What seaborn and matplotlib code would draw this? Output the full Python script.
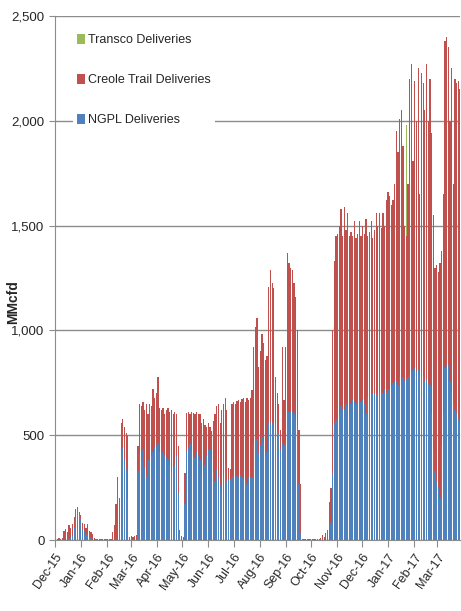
import numpy as np
import pandas as pd
import matplotlib
matplotlib.use("Agg")
import matplotlib.pyplot as plt
import seaborn as sns

# daily deliveries, in 2-day bins starting 1 Dec 2015 (MMcfd)
# total height of each bar (NGPL + Creole Trail) and the NGPL part
total_dec15 = [5, 5, 8, 5, 10, 45, 55, 40, 70, 60, 75, 110, 150, 160, 135, 120]
ngpl_dec15 = [0, 0, 0, 0, 0, 0, 0, 0, 5, 10, 20, 60, 110, 130, 120, 100]

total_jan16 = [80, 75, 60, 75, 45, 40, 30, 8, 5, 5, 5, 5, 5, 5, 5, 5, 5, 5]
ngpl_jan16 = [55, 40, 25, 30, 15, 10, 0, 0, 0, 0, 0, 0, 0, 0, 0, 0, 0, 0]

total_feb16 = [40, 70, 170, 300, 200, 560, 580, 540, 510, 500, 15, 20, 15, 20, 25]
ngpl_feb16 = [0, 0, 0, 0, 60, 420, 440, 380, 340, 200, 0, 0, 0, 0, 0]

total_mar16 = [450, 650, 640, 660, 620, 650, 600, 650, 640, 720, 680, 700, 780, 630,
               620, 630, 600, 620, 630, 610, 620, 600, 610, 600, 450, 50, 20, 15]
ngpl_mar16 = [330, 410, 380, 430, 350, 300, 380, 380, 400, 420, 440, 450, 460, 420,
              410, 420, 400, 390, 380, 360, 330, 350, 360, 400, 220, 30, 0, 0]

total_may16 = [320, 605, 610, 600, 610, 605, 600, 610, 600, 600, 560, 580, 550, 540,
               560, 540, 520, 570, 600, 640, 650, 560, 620, 650, 680, 620]
ngpl_may16 = [170, 420, 440, 460, 430, 400, 390, 420, 400, 380, 310, 330, 360, 400,
              430, 430, 380, 330, 280, 340, 300, 260, 240, 300, 370, 280]

total_jul16 = [345, 340, 650, 660, 650, 665, 670, 660, 675, 680, 660, 680, 670, 680,
               715, 920, 1015, 1060, 825, 900, 985, 940, 860, 880, 1205, 1290, 1225,
               1200, 780, 700, 650, 525, 920, 670, 920, 1370, 1320, 1300, 1290, 1225,
               1160, 1000, 525, 270]
ngpl_jul16 = [290, 285, 300, 310, 300, 305, 300, 310, 300, 290, 280, 270, 300, 300,
              296, 460, 490, 480, 415, 450, 490, 470, 400, 420, 560, 570, 560,
              540, 560, 520, 510, 430, 460, 450, 470, 610, 610, 610, 610, 600,
              580, 545, 270, 35]

total_oct16 = [3, 3, 3, 3, 3, 3, 3, 3, 3, 3, 3, 10, 25, 15, 35, 50, 180, 250]
ngpl_oct16 = [0, 0, 0, 0, 0, 0, 0, 0, 0, 0, 0, 0, 0, 0, 0, 0, 0, 80]

total_nov16 = [1000, 1330, 1450, 1460, 1500, 1580, 1450, 1590, 1480, 1560, 1450, 1470,
               1450, 1520, 1440, 1460, 1520, 1450, 1500, 1460, 1530, 1450, 1470, 1520,
               1440, 1480, 1560, 1500, 1560, 1490, 1560, 1500, 1620, 1660, 1640, 1600,
               1620, 1700, 1950, 1850, 2010, 2050, 1880, 1500]
ngpl_nov16 = [320, 560, 580, 570, 600, 640, 620, 620, 650, 640, 600, 650,
              670, 660, 650, 670, 670, 660, 670, 650, 600, 680, 680, 690,
              700, 700, 690, 700, 700, 710, 700, 720, 700, 720, 720, 730,
              750, 760, 760, 740, 780, 760, 780, 760]

total_feb17 = [1450, 1700, 2200, 2270, 1810, 2190, 2000, 2250, 1650, 2230, 2180, 2050,
               2270, 2000, 2200, 1940, 1550, 1300, 1310, 1280, 1320, 1380, 1650, 2380,
               2400, 2350, 2000, 2250, 1700, 2200, 2180, 2190, 2150]
ngpl_feb17 = [770, 780, 790, 800, 810, 820, 800, 810, 790, 800, 780, 760,
              770, 750, 740, 600, 420, 330, 280, 250, 200, 450, 600, 820,
              835, 830, 760, 700, 650, 620, 600, 580, 560]

# Transco only shows as one thin green sliver in late January 2017
transco_bin = 209
transco_val = 530

month_days = [0, 31, 62, 91, 122, 152, 183, 213, 244, 275, 305, 336, 366, 397, 428, 456]
month_labels = ["Dec-15", "Jan-16", "Feb-16", "Mar-16", "Apr-16", "May-16", "Jun-16",
                "Jul-16", "Aug-16", "Sep-16", "Oct-16", "Nov-16", "Dec-16", "Jan-17",
                "Feb-17", "Mar-17"]

total = np.array(total_dec15 + total_jan16 + total_feb16 + total_mar16 + total_may16
                 + total_jul16 + total_oct16 + total_nov16 + total_feb17, dtype=float)
ngpl = np.array(ngpl_dec15 + ngpl_jan16 + ngpl_feb16 + ngpl_mar16 + ngpl_may16
                + ngpl_jul16 + ngpl_oct16 + ngpl_nov16 + ngpl_feb17, dtype=float)
transco = np.zeros(len(total))
transco[transco_bin] = transco_val

df = pd.DataFrame({
    "day": 2 * np.arange(len(total)) + 1,
    "ngpl": ngpl,
    "creole_top": total,
    "transco_top": total + transco,
})

sns.set_style("white")
plt.rcParams["font.family"] = ["Liberation Sans Narrow", "Liberation Sans", "DejaVu Sans"]

fig = plt.figure(figsize=(4.61, 6.11), dpi=100)
ax = fig.add_axes([0.119, 0.116, 0.879, 0.858])

blue = "#4F81BD"
red = "#C0504D"
green = "#9BBB59"

sns.barplot(data=df, x="day", y="transco_top", native_scale=True, color=green,
            saturation=1, errorbar=None, width=0.75, linewidth=0, ax=ax,
            label="Transco Deliveries")
sns.barplot(data=df, x="day", y="creole_top", native_scale=True, color=red,
            saturation=1, errorbar=None, width=0.75, linewidth=0, ax=ax,
            label="Creole Trail Deliveries")
sns.barplot(data=df, x="day", y="ngpl", native_scale=True, color=blue,
            saturation=1, errorbar=None, width=0.75, linewidth=0, ax=ax,
            label="NGPL Deliveries")

ax.set_xlim(0, 483)
ax.set_ylim(0, 2500)
ax.set_yticks(range(0, 2501, 500))
ax.set_yticklabels([f"{v:,}" for v in range(0, 2501, 500)], fontsize=9.5)
ax.set_xticks(month_days)
ax.set_xticklabels(month_labels, rotation=55, ha="right", rotation_mode="anchor",
                   fontsize=9)
ax.tick_params(axis="x", length=5, color="#8c8c8c", pad=3, bottom=True)
ax.tick_params(axis="y", length=4, color="#8c8c8c", left=True)

ax.yaxis.grid(True, color="#8c8c8c", linewidth=1)
ax.set_axisbelow(True)
for side in ["top", "right"]:
    ax.spines[side].set_visible(False)
for side in ["left", "bottom"]:
    ax.spines[side].set_color("#8c8c8c")

ax.set_xlabel("")
ax.set_ylabel("")
fig.text(0.028, 0.505, "MMcfd", rotation=90, ha="center", va="center",
         fontsize=10, fontweight="bold")

leg = ax.legend(loc="upper left", bbox_to_anchor=(0.03, 0.985), frameon=True,
                fancybox=False, edgecolor="none", facecolor="white", framealpha=1,
                fontsize=9, labelspacing=2.2, handlelength=0.6, handleheight=0.9,
                handletextpad=0.3, borderpad=0.3)

fig.savefig("out.png", dpi=100)
